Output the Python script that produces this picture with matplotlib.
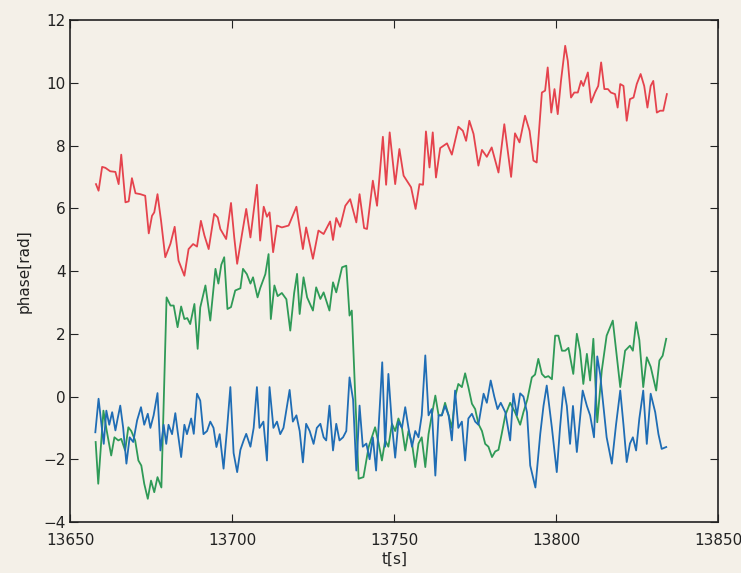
import matplotlib
matplotlib.use('Agg')
import matplotlib.pyplot as plt

# %% phase traces
t_red = [13657.9, 13658.7, 13659.8, 13660.8, 13662.3, 13663.9, 13664.9, 13665.7, 13667.0, 13668.0,
         13669.0, 13670.1, 13671.6, 13673.1, 13674.2, 13675.2, 13675.9, 13676.9, 13678.0, 13679.3,
         13680.9, 13682.2, 13683.4, 13685.2, 13686.5, 13687.9, 13689.1, 13690.3, 13691.4, 13692.7,
         13694.4, 13695.5, 13696.3, 13698.1, 13699.6, 13700.6, 13701.5, 13703.0, 13704.3, 13705.6,
         13707.6, 13708.6, 13709.7, 13710.7, 13711.5, 13712.6, 13713.8, 13715.3, 13717.4, 13719.8,
         13721.8, 13722.8, 13724.9, 13726.6, 13728.2, 13730.2, 13731.1, 13732.1, 13733.3, 13734.9,
         13736.4, 13738.3, 13739.3, 13740.7, 13741.6, 13743.4, 13744.7, 13746.5, 13747.5, 13748.6,
         13750.3, 13751.6, 13752.9, 13755.2, 13756.6, 13757.8, 13758.9, 13759.8, 13760.9, 13761.9,
         13762.9, 13764.2, 13766.3, 13767.8, 13769.8, 13771.2, 13772.2, 13773.2, 13774.5, 13776.0,
         13777.1, 13778.6, 13780.1, 13782.2, 13784.0, 13786.1, 13787.3, 13788.7, 13790.4, 13791.8,
         13793.0, 13794.0, 13795.6, 13796.6, 13797.4, 13798.5, 13799.5, 13800.5, 13801.5, 13802.8,
         13803.6, 13804.6, 13805.6, 13806.7, 13807.7, 13808.4, 13809.8, 13810.8, 13812.0, 13813.0,
         13813.9, 13814.9, 13816.0, 13816.9, 13818.2, 13819.0, 13819.8, 13820.8, 13821.8, 13822.8,
         13823.9, 13824.9, 13826.1, 13827.2, 13828.2, 13829.2, 13830.0, 13831.1, 13832.1, 13833.1,
         13834.2]
phase_red = [6.77, 6.56, 7.32, 7.29, 7.18, 7.16, 6.77, 7.71, 6.19, 6.22,
             6.96, 6.48, 6.45, 6.40, 5.20, 5.76, 5.87, 6.45, 5.60, 4.44,
             4.87, 5.41, 4.33, 3.85, 4.70, 4.86, 4.78, 5.60, 5.13, 4.70,
             5.82, 5.71, 5.34, 5.02, 6.17, 5.07, 4.23, 5.18, 5.98, 5.07,
             6.75, 4.97, 6.05, 5.73, 5.87, 4.60, 5.45, 5.39, 5.45, 6.05,
             4.70, 5.39, 4.39, 5.29, 5.18, 5.58, 4.99, 5.69, 5.41, 6.08,
             6.29, 5.55, 6.45, 5.37, 5.34, 6.88, 6.08, 8.28, 6.75, 8.42,
             6.77, 7.89, 7.04, 6.67, 5.98, 6.77, 6.75, 8.45, 7.30, 8.42,
             6.98, 7.92, 8.07, 7.71, 8.60, 8.47, 8.15, 8.79, 8.37, 7.36,
             7.86, 7.64, 7.94, 7.14, 8.68, 7.00, 8.39, 8.10, 8.95, 8.47,
             7.52, 7.46, 9.69, 9.75, 10.49, 9.05, 9.80, 9.00, 10.06, 11.18,
             10.70, 9.53, 9.69, 9.69, 10.06, 9.90, 10.33, 9.37, 9.69, 9.90,
             10.65, 9.80, 9.80, 9.69, 9.64, 9.21, 9.96, 9.90, 8.79, 9.48,
             9.53, 9.96, 10.28, 9.90, 9.21, 9.90, 10.06, 9.05, 9.11, 9.11,
             9.64]

t_green = [13657.8, 13658.6, 13660.2, 13661.2, 13662.6, 13663.6, 13664.8, 13665.7, 13666.9, 13667.9,
           13668.8, 13670.0, 13671.0, 13671.9, 13672.8, 13673.9, 13674.9, 13675.9, 13676.9, 13678.1,
           13679.7, 13680.9, 13681.9, 13683.1, 13684.2, 13685.2, 13686.1, 13687.0, 13688.3, 13689.3,
           13690.1, 13691.7, 13693.2, 13694.8, 13695.7, 13696.6, 13697.5, 13698.5, 13699.6, 13700.9,
           13702.5, 13703.3, 13704.5, 13705.6, 13706.4, 13707.8, 13708.6, 13710.2, 13711.2, 13711.9,
           13713.0, 13714.0, 13715.3, 13716.7, 13717.9, 13719.1, 13720.0, 13720.8, 13722.0, 13723.1,
           13724.9, 13725.9, 13727.2, 13728.2, 13730.0, 13731.1, 13732.1, 13733.9, 13735.2, 13736.2,
           13736.9, 13739.0, 13740.5, 13742.1, 13743.1, 13744.1, 13745.2, 13746.2, 13747.2, 13748.2,
           13749.3, 13750.3, 13751.3, 13752.4, 13753.4, 13754.4, 13755.5, 13756.5, 13757.5, 13758.5,
           13759.6, 13760.6, 13761.6, 13762.7, 13763.7, 13764.7, 13765.7, 13766.8, 13767.8, 13768.8,
           13769.8, 13770.9, 13771.9, 13772.9, 13774.0, 13775.0, 13776.0, 13777.1, 13778.1, 13779.1,
           13780.2, 13781.2, 13782.2, 13783.2, 13784.3, 13785.8, 13787.3, 13788.9, 13789.9, 13791.1,
           13792.5, 13793.5, 13794.5, 13795.6, 13796.6, 13797.6, 13798.7, 13799.7, 13800.7, 13801.8,
           13802.8, 13803.8, 13805.3, 13806.4, 13807.4, 13808.4, 13809.5, 13810.5, 13811.5, 13812.7,
           13814.1, 13815.6, 13817.5, 13818.7, 13819.8, 13821.3, 13822.8, 13823.7, 13824.7, 13825.7,
           13826.9, 13828.0, 13829.2, 13830.9, 13831.9, 13832.9, 13834.0]
phase_green = [-1.45, -2.78, -0.45, -1.08, -1.88, -1.30, -1.40, -1.35, -1.72, -0.98,
               -1.10, -1.40, -2.04, -2.20, -2.78, -3.26, -2.68, -3.05, -2.57, -2.90,
               3.16, 2.90, 2.90, 2.21, 2.87, 2.47, 2.50, 2.31, 2.95, 1.52,
               2.84, 3.54, 2.42, 4.07, 3.60, 4.20, 4.44, 2.79, 2.85, 3.38,
               3.45, 4.07, 3.90, 3.60, 3.80, 3.16, 3.45, 3.90, 4.54, 2.47,
               3.54, 3.20, 3.30, 3.10, 2.10, 3.30, 3.91, 2.63, 3.80, 3.16,
               2.74, 3.48, 3.11, 3.32, 2.74, 3.64, 3.32, 4.12, 4.17, 2.58,
               2.74, -2.62, -2.57, -1.61, -1.30, -0.98, -1.50, -2.04, -1.40, -1.60,
               -0.87, -1.10, -0.70, -1.00, -1.72, -1.10, -1.50, -2.25, -1.50, -1.30,
               -2.25, -1.20, -0.60, 0.03, -0.60, -0.60, -0.20, -0.60, -1.00, -0.02,
               0.40, 0.30, 0.74, 0.30, -0.23, -0.40, -0.87, -1.10, -1.51, -1.60,
               -1.93, -1.75, -1.70, -1.19, -0.60, -0.20, -0.50, -0.90, -0.50, -0.10,
               0.61, 0.70, 1.20, 0.72, 0.61, 0.65, 0.55, 1.94, 1.94, 1.46,
               1.46, 1.55, 0.72, 2.00, 1.46, 0.40, 1.36, 0.51, 1.84, -0.82,
               0.83, 1.94, 2.42, 1.30, 0.30, 1.46, 1.62, 1.46, 2.37, 1.80,
               0.30, 1.25, 0.95, 0.19, 1.15, 1.30, 1.84]

t_blue = [13657.7, 13658.7, 13659.6, 13660.3, 13661.1, 13662.0, 13662.9, 13663.9, 13664.6, 13665.4,
          13666.3, 13667.3, 13668.3, 13669.4, 13670.6, 13671.8, 13672.8, 13673.9, 13674.7, 13675.7,
          13676.9, 13677.8, 13678.8, 13679.6, 13680.3, 13681.4, 13682.4, 13683.1, 13684.2, 13685.2,
          13686.0, 13687.3, 13688.1, 13689.1, 13690.1, 13691.1, 13692.2, 13693.2, 13694.2, 13695.1,
          13696.1, 13697.3, 13698.4, 13699.4, 13700.4, 13701.5, 13702.5, 13703.5, 13704.3, 13705.6,
          13706.6, 13707.6, 13708.4, 13709.6, 13710.7, 13711.5, 13712.7, 13713.8, 13714.8, 13715.8,
          13717.7, 13718.7, 13719.8, 13720.8, 13721.8, 13722.8, 13723.9, 13725.1, 13726.1, 13727.2,
          13728.2, 13729.0, 13730.0, 13731.1, 13732.1, 13733.1, 13734.2, 13735.2, 13736.2, 13737.3,
          13738.3, 13739.3, 13740.3, 13741.4, 13742.4, 13743.4, 13744.4, 13745.5, 13746.3, 13747.2,
          13748.2, 13749.3, 13750.3, 13751.3, 13752.4, 13753.4, 13754.4, 13755.5, 13756.5, 13757.5,
          13758.5, 13759.6, 13760.6, 13761.6, 13762.7, 13763.7, 13764.7, 13765.7, 13766.8, 13767.8,
          13768.8, 13769.8, 13770.9, 13771.9, 13772.9, 13774.0, 13775.0, 13776.0, 13777.6, 13778.6,
          13779.8, 13780.9, 13781.9, 13782.9, 13784.3, 13785.8, 13786.8, 13787.9, 13788.9, 13789.9,
          13791.0, 13792.0, 13793.6, 13795.1, 13796.1, 13797.1, 13798.7, 13800.2, 13801.2, 13802.3,
          13803.3, 13804.3, 13805.2, 13806.4, 13808.2, 13809.5, 13810.5, 13811.7, 13812.7, 13813.6,
          13814.6, 13815.6, 13817.2, 13818.5, 13819.8, 13820.8, 13821.8, 13822.8, 13823.7, 13824.7,
          13825.7, 13826.9, 13828.0, 13829.2, 13830.6, 13831.6, 13832.6, 13834.0]
phase_blue = [-1.14, -0.07, -0.90, -1.51, -0.45, -0.90, -0.50, -1.08, -0.70, -0.29,
              -1.00, -2.14, -1.30, -1.45, -0.76, -0.34, -0.90, -0.55, -1.00, -0.60,
              0.11, -1.72, -0.90, -1.51, -0.90, -1.20, -0.53, -1.10, -1.93, -0.90,
              -1.20, -0.70, -1.19, 0.09, -0.13, -1.20, -1.10, -0.80, -1.00, -1.61,
              -1.20, -2.30, -1.00, 0.30, -1.80, -2.41, -1.70, -1.40, -1.19, -1.60,
              -1.00, 0.30, -1.00, -0.80, -2.04, 0.30, -1.00, -0.80, -1.20, -1.00,
              0.21, -0.80, -0.60, -1.10, -2.10, -0.87, -1.10, -1.51, -1.00, -0.87,
              -1.30, -1.40, -0.29, -1.72, -0.87, -1.40, -1.30, -1.10, 0.61, -0.10,
              -2.36, -0.29, -1.60, -1.50, -2.00, -1.30, -2.36, -0.40, 1.09, -1.60,
              0.72, -0.90, -1.95, -0.80, -1.00, -0.34, -1.00, -1.60, -1.10, -1.30,
              -0.60, 1.31, -0.60, -0.40, -2.52, -0.60, -0.60, -0.30, -0.60, -1.40,
              0.19, -1.00, -0.80, -2.04, -0.70, -0.55, -0.80, -0.90, 0.09, -0.20,
              0.51, 0.00, -0.40, -0.20, -0.50, -1.40, 0.09, -0.60, 0.10, 0.00,
              -0.50, -2.20, -2.90, -1.19, -0.30, 0.35, -1.00, -2.41, -1.00, 0.30,
              -0.30, -1.51, -0.30, -1.77, 0.19, -0.30, -0.60, -1.30, 1.28, 0.70,
              -0.30, -1.30, -2.14, -0.90, 0.19, -0.90, -2.09, -1.50, -1.30, -1.72,
              -0.70, 0.19, -1.51, 0.09, -0.50, -1.20, -1.67, -1.61]

bg = '#f4f0e8'
plt.rcParams['font.family'] = 'DejaVu Sans'
plt.rcParams['font.size'] = 11

fig = plt.figure(figsize=(7.41, 5.73), dpi=100, facecolor=bg)
ax = fig.add_axes([0.095, 0.089, 0.874, 0.876], facecolor=bg)

ax.plot(t_red, phase_red, color='#e5434d', lw=1.3)
ax.plot(t_green, phase_green, color='#2f9a57', lw=1.3)
ax.plot(t_blue, phase_blue, color='#1f6db5', lw=1.3)

ax.set_xlim(13650, 13850)
ax.set_ylim(-4, 12)
ax.set_xticks([13650, 13700, 13750, 13800, 13850])
ax.set_yticks(range(-4, 13, 2))
ax.tick_params(direction='in', length=6, top=True, right=True, labelsize=11, colors='#222222')
ax.tick_params(axis='x', pad=8)
for s in ax.spines.values():
    s.set_color('#222222')
    s.set_linewidth(1.2)

ax.set_xlabel('t[s]', color='#222222', labelpad=3)
ax.set_ylabel('phase[rad]', color='#222222', labelpad=8)

fig.savefig('out.png', dpi=100, facecolor=bg)
